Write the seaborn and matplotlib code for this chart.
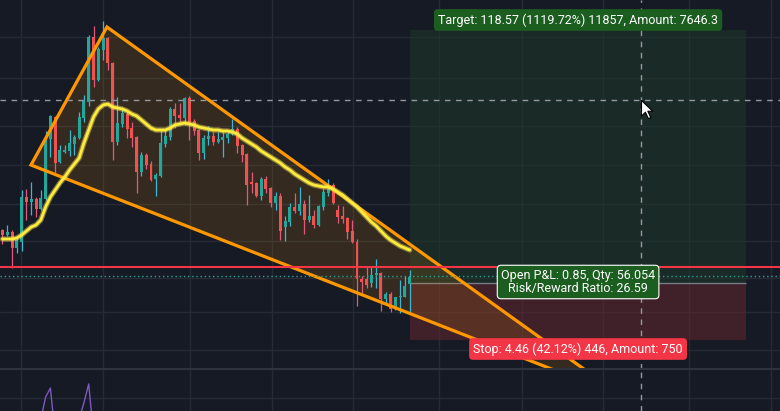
import matplotlib
matplotlib.use("Agg")
import matplotlib.pyplot as plt
import numpy as np
import pandas as pd
import seaborn as sns
from matplotlib.patches import Polygon, Rectangle
from matplotlib.path import Path

# --- candle data (one bar per slot) ---
opens = [18.1, 17.6, 17.9, 16.3, 16.9, 21.4, 20.9, 21.2, 20.2, 21.2,
         27.2, 29.4, 24.9, 25.9, 26.0, 26.7, 27.3, 29.3, 30.9, 37.4,
         33.1, 36.1, 37.3, 34.8, 26.9, 28.7, 29.7, 28.3, 27.4, 23.9,
         25.6, 24.7, 23.2, 23.5, 26.7, 27.4, 30.2, 29.6, 29.3, 31.3,
         29.0, 28.1, 25.8, 27.2, 27.5, 26.9, 27.1, 27.3, 27.7, 28.2,
         26.6, 25.7, 22.8, 22.8, 21.5, 23.2, 22.3, 20.8, 21.5, 18.4,
         18.9, 20.4, 20.0, 20.7, 19.1, 19.5, 18.6, 20.4, 21.8, 22.6,
         20.1, 19.5, 19.3, 18.0, 16.9, 13.2, 13.2, 12.8, 13.6, 13.8,
         11.2, 11.7, 10.2, 11.4, 11.4, 12.7]
highs = [18.2, 18.6, 18.1, 17.3, 22.1, 22.2, 22.9, 21.4, 22.1, 28.0,
         29.6, 29.5, 26.6, 26.6, 28.1, 27.6, 29.9, 31.6, 37.6, 38.5,
         36.4, 39.0, 37.4, 34.9, 31.4, 30.4, 29.9, 28.9, 27.5, 25.9,
         25.8, 25.0, 23.8, 28.2, 28.2, 30.4, 30.8, 30.8, 31.4, 31.5,
         29.2, 28.2, 27.6, 28.5, 27.9, 27.9, 27.9, 27.9, 29.2, 28.4,
         26.7, 25.8, 23.9, 22.9, 23.4, 23.5, 22.4, 21.9, 21.8, 19.5,
         20.8, 21.8, 22.4, 21.1, 21.6, 20.1, 20.6, 22.2, 23.2, 22.8,
         20.6, 20.5, 19.4, 19.1, 17.2, 13.5, 14.5, 14.4, 15.2, 13.9,
         11.9, 11.9, 11.4, 13.1, 13.5, 14.1]
lows = [16.7, 17.5, 14.3, 15.8, 16.0, 19.1, 19.6, 19.4, 20.1, 21.1,
        25.4, 23.8, 24.8, 25.8, 25.5, 25.6, 27.2, 28.9, 30.5, 32.4,
        33.0, 35.1, 34.1, 25.1, 26.6, 28.4, 27.3, 26.4, 21.8, 23.5,
        24.2, 23.0, 21.5, 23.4, 26.4, 27.1, 28.3, 28.6, 28.6, 27.1,
        27.6, 25.1, 25.2, 26.6, 26.6, 26.8, 25.4, 26.8, 27.6, 25.8,
        24.9, 20.6, 21.8, 21.4, 21.1, 21.8, 20.4, 20.1, 17.1, 17.0,
        18.5, 19.8, 19.6, 17.7, 18.9, 18.3, 18.5, 20.1, 21.5, 20.7,
        18.8, 18.8, 17.2, 16.8, 10.5, 11.8, 12.3, 12.4, 12.3, 10.0,
        10.8, 9.9, 10.1, 9.8, 11.4, 9.8]
closes = [17.6, 17.9, 16.3, 17.1, 21.4, 20.9, 21.2, 20.2, 21.3, 27.2,
          29.5, 24.8, 26.1, 26.1, 26.8, 27.4, 29.4, 31.0, 37.4, 33.1,
          36.2, 37.3, 34.8, 26.9, 28.8, 29.8, 28.2, 27.3, 23.9, 25.6,
          24.6, 23.1, 23.6, 26.8, 27.5, 30.2, 29.5, 29.3, 31.3, 28.8,
          28.0, 25.8, 27.3, 27.5, 26.9, 27.2, 27.4, 27.7, 28.2, 26.5,
          25.6, 22.6, 22.7, 21.5, 23.2, 22.2, 20.8, 21.5, 18.0, 19.0,
          20.4, 20.0, 20.7, 19.1, 19.5, 18.6, 20.5, 21.9, 22.5, 20.8,
          19.4, 19.2, 17.9, 16.9, 13.2, 12.9, 12.6, 13.6, 13.8, 11.2,
          11.7, 10.2, 11.4, 11.5, 12.5, 13.4]
ma_values = [17.2, 17.2, 17.2, 17.3, 17.6, 18.0, 18.4, 18.6, 19.1, 20.4,
             21.4, 22.1, 22.8, 23.4, 24.1, 24.7, 25.3, 26.8, 28.1, 29.4,
             30.2, 30.6, 30.7, 30.4, 30.3, 30.2, 30.0, 29.7, 29.5, 29.1,
             28.7, 28.3, 28.1, 28.1, 28.1, 28.3, 28.6, 28.7, 28.8, 28.7,
             28.6, 28.4, 28.3, 28.2, 28.1, 28.1, 28.0, 28.0, 27.9, 27.7,
             27.3, 27.0, 26.7, 26.4, 26.0, 25.7, 25.4, 25.1, 24.8, 24.4,
             24.1, 23.7, 23.4, 23.1, 22.8, 22.6, 22.5, 22.4, 22.4, 22.2,
             21.9, 21.6, 21.2, 20.8, 20.4, 19.9, 19.4, 18.9, 18.5, 18.0,
             17.5, 17.1, 16.8, 16.5, 16.3, 16.1]
# lower pane oscillator (mostly below the visible part of the pane)
osc_values = [31, 30, 29, 30, 32, 31, 30, 29, 30, 57,
              68, 10, 28, 30, 31, 30, 30, 50, 73, 10,
              27, 29, 30, 31, 30, 29, 30, 31, 30, 29] + [30] * 56

# --- drawings ---
triangle_pts = [(5.95, 24.6), (21.8, 38.4), (129.5, 1.4)]
box_left, box_right = 85.1, 155.2
target_price, entry_price, stop_price = 38.1, 12.8, 7.1
last_price, bid_price = 14.4, 13.5
cursor_x, cursor_y = 133.3, 31.1
price_grid = [37.4, 33.3, 28.5, 24.6, 20.7, 17.0, 13.3, 9.9, 6.1]
time_grid = [3.9, 21.0, 39.1, 56.3, 73.2, 91.1, 108.5, 125.4, 143.3, 160.4]
target_text = "Target: 118.57 (1119.72%) 11857, Amount: 7646.3"
pnl_text = "Open P&L: 0.85, Qty: 56.054\nRisk/Reward Ratio: 26.59"
stop_text = "Stop: 4.46 (42.12%) 446, Amount: 750"

BG = "#161a25"
GRID = "#252a36"
UP, DOWN = "#26a69a", "#ef5350"
UP_WICK, DOWN_WICK = "#3cb8d4", "#e4587c"

sns.set_theme(style="dark", rc={"axes.facecolor": BG, "figure.facecolor": BG})
plt.rcParams["font.family"] = ["Roboto", "DejaVu Sans"]

df = pd.DataFrame({"open": opens, "high": highs, "low": lows, "close": closes,
                   "ma": ma_values, "osc": osc_values})
df["bar"] = np.arange(len(df))
up = df["close"] >= df["open"]

fig = plt.figure(figsize=(7.8, 4.11), dpi=100)
ax = fig.add_axes([0, 42 / 411, 1, 369 / 411])
ax2 = fig.add_axes([0, 0, 1, 42 / 411])

for a in (ax, ax2):
    a.set_facecolor(BG)
    a.set_xlim(-0.52, 162.3)
    a.set_xticks(time_grid)
    a.tick_params(length=0, labelleft=False, labelbottom=False)
    a.grid(True, color=GRID, lw=1.0)
    for s in a.spines.values():
        s.set_visible(False)

ax.set_ylim(4.2, 41.1)
ax.set_yticks(price_grid)
ax2.set_ylim(40, 91.2)
ax2.set_yticks([55.9])
ax2.spines["top"].set_visible(True)
ax2.spines["top"].set_color("#2e3340")
ax2.spines["top"].set_linewidth(1.5)

# long position box
ax.add_patch(Rectangle((box_left, entry_price), box_right - box_left, target_price - entry_price,
                       facecolor="#1e3a27", alpha=0.5, lw=0, zorder=1))
ax.add_patch(Rectangle((box_left, stop_price), box_right - box_left, entry_price - stop_price,
                       facecolor="#6a282f", alpha=0.5, lw=0, zorder=1))
ax.hlines(entry_price, box_left, box_right, color="#787b86", lw=1, zorder=1.5)

# triangle
ax.add_patch(Polygon(triangle_pts, closed=True, facecolor="#ff9800", alpha=0.13, lw=0, zorder=2))
ax.add_patch(Polygon(triangle_pts, closed=True, fill=False, edgecolor="#ff9800", lw=2.3, zorder=3.5))

# candles
for mask, body_c, wick_c in ((up, UP, UP_WICK), (~up, DOWN, DOWN_WICK)):
    d = df[mask]
    ax.vlines(d["bar"], d["low"], d["high"], color=wick_c, lw=0.9, zorder=3)
    bottom = np.minimum(d["open"], d["close"])
    height = np.maximum(np.abs(d["close"] - d["open"]), 0.15)
    ax.bar(d["bar"], height, bottom=bottom, width=0.62, color=body_c, lw=0, zorder=3.2)

# moving average with glow
sns.lineplot(data=df, x="bar", y="ma", ax=ax, color="#ffee58", lw=3.8, alpha=0.45, zorder=4)
sns.lineplot(data=df, x="bar", y="ma", ax=ax, color="#ffeb3b", lw=2.0, zorder=4.1)

# price lines
ax.axhline(last_price, color="#f23645", lw=1.5, zorder=5)
ax.axhline(bid_price, color=UP, lw=1, ls=(0, (1, 2)), zorder=5)

# crosshair
ax.axhline(cursor_y, color="#9598a1", lw=1, ls=(0, (4, 4)), zorder=6)
for a in (ax, ax2):
    a.axvline(cursor_x, color="#9598a1", lw=1, ls=(0, (4, 4)), zorder=6)

# lower pane
sns.lineplot(data=df, x="bar", y="osc", ax=ax2, color="#7e57c2", lw=1.0)
for a in (ax, ax2):
    a.set_xlabel("")
    a.set_ylabel("")

# labels
mid = (box_left + box_right) / 2
ax.text(mid, 39.1, target_text, ha="center", va="center", color="white", fontsize=9, zorder=8,
        bbox=dict(boxstyle="round,pad=0.33,rounding_size=0.3", fc="#1b5e20", ec="none"))
ax.text(mid, 12.9, pnl_text, ha="center", va="center", color="white", fontsize=9, zorder=8,
        linespacing=1.0,
        bbox=dict(boxstyle="round,pad=0.3,rounding_size=0.3", fc="#1b5e20", ec="white", lw=0.8))
ax.text(mid, 6.2, stop_text, ha="center", va="center", color="white", fontsize=9, zorder=8,
        bbox=dict(boxstyle="round,pad=0.33,rounding_size=0.3", fc="#f23645", ec="none"))

# mouse cursor
cursor_path = Path([(0, 0), (0, -16), (4, -12), (7, -18.5), (9.5, -17.5), (6.5, -11), (11.5, -11), (0, 0)],
                   [Path.MOVETO] + [Path.LINETO] * 6 + [Path.CLOSEPOLY])
ax.plot([cursor_x], [cursor_y], marker=cursor_path, markersize=26, color="white",
        markeredgecolor="black", markeredgewidth=0.8, zorder=9)

fig.savefig("out.png", dpi=100, facecolor=BG)
